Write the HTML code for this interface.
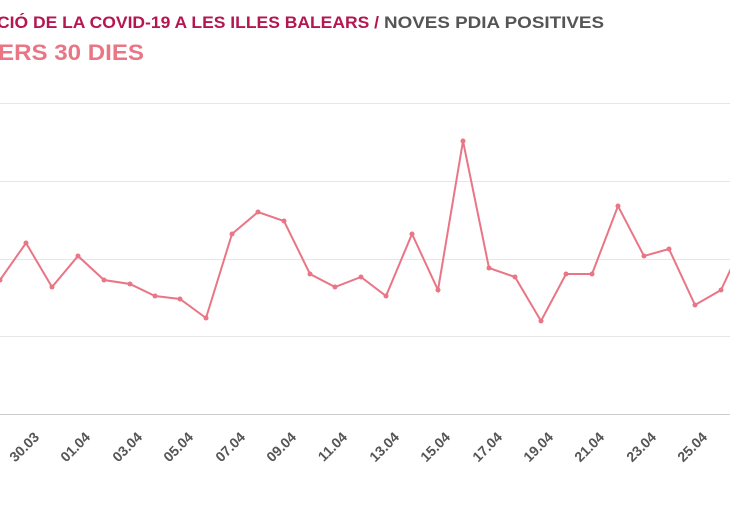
<!DOCTYPE html>
<html><head><meta charset="utf-8"><style>
body{margin:0;background:#fff;width:730px;height:500px;overflow:hidden;font-family:"Liberation Sans",sans-serif}
</style></head><body>
<svg width="730" height="500" xmlns="http://www.w3.org/2000/svg" font-family="Liberation Sans, sans-serif">
<text x="-3" y="28" font-size="17" font-weight="bold" fill="#b5164f" textLength="382" lengthAdjust="spacingAndGlyphs">CIÓ DE LA COVID-19 A LES ILLES BALEARS /</text>
<text x="384" y="28" font-size="17" font-weight="bold" fill="#555" textLength="220" lengthAdjust="spacingAndGlyphs">NOVES PDIA POSITIVES</text>
<text x="-2" y="60" font-size="22" font-weight="bold" fill="#e97585" textLength="146" lengthAdjust="spacingAndGlyphs">ERS 30 DIES</text>
<g stroke="#e6e6e6" stroke-width="1">
<line x1="0" x2="730" y1="103.5" y2="103.5"/><line x1="0" x2="730" y1="181.5" y2="181.5"/><line x1="0" x2="730" y1="259.5" y2="259.5"/><line x1="0" x2="730" y1="336.5" y2="336.5"/>
</g>
<line x1="0" x2="730" y1="414.5" y2="414.5" stroke="#ccc"/>
<polyline fill="none" stroke="#e97585" stroke-width="2" points="0,280 26,243 52,287 78,256 104,280 130,284 155,296 180,299 206,318 232,234 258,212 284,221 310,274 335,287 361,277 386,296 412,234 438,290 463,141 489,268 515,277 541,321 566,274 592,274 618,206 644,256 669,249 695,305 721,290 735,260"/>
<g fill="#e97585">
<circle cx="0" cy="280" r="2.5"/><circle cx="26" cy="243" r="2.5"/><circle cx="52" cy="287" r="2.5"/><circle cx="78" cy="256" r="2.5"/><circle cx="104" cy="280" r="2.5"/><circle cx="130" cy="284" r="2.5"/><circle cx="155" cy="296" r="2.5"/><circle cx="180" cy="299" r="2.5"/><circle cx="206" cy="318" r="2.5"/><circle cx="232" cy="234" r="2.5"/><circle cx="258" cy="212" r="2.5"/><circle cx="284" cy="221" r="2.5"/><circle cx="310" cy="274" r="2.5"/><circle cx="335" cy="287" r="2.5"/><circle cx="361" cy="277" r="2.5"/><circle cx="386" cy="296" r="2.5"/><circle cx="412" cy="234" r="2.5"/><circle cx="438" cy="290" r="2.5"/><circle cx="463" cy="141" r="2.5"/><circle cx="489" cy="268" r="2.5"/><circle cx="515" cy="277" r="2.5"/><circle cx="541" cy="321" r="2.5"/><circle cx="566" cy="274" r="2.5"/><circle cx="592" cy="274" r="2.5"/><circle cx="618" cy="206" r="2.5"/><circle cx="644" cy="256" r="2.5"/><circle cx="669" cy="249" r="2.5"/><circle cx="695" cy="305" r="2.5"/><circle cx="721" cy="290" r="2.5"/>
</g>
<g font-size="14" font-weight="bold" fill="#555" text-anchor="end">
<text transform="translate(40,438) rotate(-45)">30.03</text>
<text transform="translate(91,438) rotate(-45)">01.04</text>
<text transform="translate(143,438) rotate(-45)">03.04</text>
<text transform="translate(194,438) rotate(-45)">05.04</text>
<text transform="translate(246,438) rotate(-45)">07.04</text>
<text transform="translate(297,438) rotate(-45)">09.04</text>
<text transform="translate(348,438) rotate(-45)">11.04</text>
<text transform="translate(400,438) rotate(-45)">13.04</text>
<text transform="translate(451,438) rotate(-45)">15.04</text>
<text transform="translate(503,438) rotate(-45)">17.04</text>
<text transform="translate(554,438) rotate(-45)">19.04</text>
<text transform="translate(605,438) rotate(-45)">21.04</text>
<text transform="translate(657,438) rotate(-45)">23.04</text>
<text transform="translate(708,438) rotate(-45)">25.04</text>
<text transform="translate(760,438) rotate(-45)">27.04</text>
</g>
</svg>
</body></html>
